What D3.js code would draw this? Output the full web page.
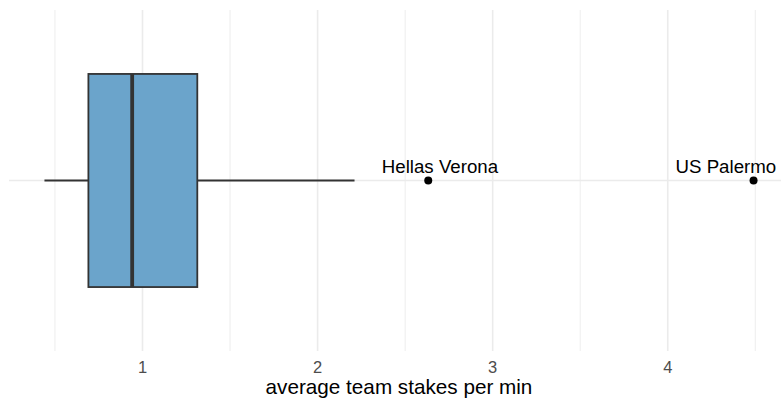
<!DOCTYPE html>
<html>
<head>
<meta charset="utf-8">
<script src="https://cdn.jsdelivr.net/npm/d3@7"></script>
<style>
  body { margin: 0; background: #fff; }
  text { font-family: "Liberation Sans", Arial, sans-serif; }
</style>
</head>
<body>
<div class="chart"></div>
<script>
// boxplot summary
var category = ["teams"];
var boxStats = [{lower: 0.44, q1: 0.691, median: 0.941, q3: 1.313, upper: 2.211}];
var outlierTeams  = ["Hellas Verona", "US Palermo"];
var outlierValues = [2.632, 4.49];
var labelCenters  = [2.699, 4.332];   // where the (repelled) labels sit
var xTicks = [1, 2, 3, 4];
var xMinorTicks = [0.5, 1.5, 2.5, 3.5, 4.5];

var svg = d3.select(".chart").append("svg").attr("width", 781).attr("height", 400),
    panel = {left: 9, right: 789, top: 10, bottom: 351};

// data range + 5% each side, like ggplot does
var lo = d3.min(boxStats, d => d.lower),
    hi = d3.max(outlierValues),
    pad = (hi - lo) * 0.05;

var x = d3.scaleLinear().domain([lo - pad, hi + pad]).range([panel.left, panel.right]);
var y = d3.scaleBand().domain(category).range([panel.top, panel.bottom])
          .paddingInner(0.25).paddingOuter(0.225);

var g = svg.append("g");

// grid
g.selectAll(".minor").data(xMinorTicks).enter().append("line")
    .attr("x1", d => x(d)).attr("x2", d => x(d))
    .attr("y1", panel.top).attr("y2", panel.bottom)
    .attr("stroke", "#ebebeb").attr("stroke-width", 0.9);

g.selectAll(".major").data(xTicks).enter().append("line")
    .attr("x1", d => x(d)).attr("x2", d => x(d))
    .attr("y1", panel.top).attr("y2", panel.bottom)
    .attr("stroke", "#ebebeb").attr("stroke-width", 1.6);

g.selectAll(".hmajor").data(category).enter().append("line")
    .attr("x1", panel.left).attr("x2", panel.right)
    .attr("y1", d => y(d) + y.bandwidth() / 2).attr("y2", d => y(d) + y.bandwidth() / 2)
    .attr("stroke", "#ebebeb").attr("stroke-width", 1.6);

// boxplot
var mid = y(category[0]) + y.bandwidth() / 2;
boxStats.forEach(function(b) {
  g.append("line")
      .attr("x1", x(b.lower)).attr("x2", x(b.q1))
      .attr("y1", mid).attr("y2", mid)
      .attr("stroke", "#333333").attr("stroke-width", 1.8);
  g.append("line")
      .attr("x1", x(b.q3)).attr("x2", x(b.upper))
      .attr("y1", mid).attr("y2", mid)
      .attr("stroke", "#333333").attr("stroke-width", 1.8);
  g.append("rect")
      .attr("x", x(b.q1)).attr("y", y(category[0]))
      .attr("width", x(b.q3) - x(b.q1)).attr("height", y.bandwidth())
      .attr("fill", "#6ba4cb").attr("stroke", "#333333").attr("stroke-width", 1.8);
  g.append("line")
      .attr("x1", x(b.median)).attr("x2", x(b.median))
      .attr("y1", y(category[0])).attr("y2", y(category[0]) + y.bandwidth())
      .attr("stroke", "#333333").attr("stroke-width", 3.8);
});

// outliers
g.selectAll(".out").data(outlierValues).enter().append("circle")
    .attr("cx", d => x(d)).attr("cy", mid).attr("r", 4)
    .attr("fill", "#000");

g.selectAll(".lab").data(outlierTeams).enter().append("text")
    .attr("x", (d, i) => x(labelCenters[i]))
    .attr("y", mid - 8)
    .attr("text-anchor", "middle")
    .style("font-size", "18.7px")
    .attr("fill", "#000")
    .text(d => d);

// x axis labels
g.selectAll(".tick").data(xTicks).enter().append("text")
    .attr("x", d => x(d)).attr("y", 373)
    .attr("text-anchor", "middle")
    .style("font-size", "16.5px")
    .attr("fill", "#4d4d4d")
    .text(d => d);

svg.append("text")
    .attr("x", (panel.left + panel.right) / 2).attr("y", 394)
    .attr("text-anchor", "middle")
    .style("font-size", "20.7px")
    .attr("fill", "#000")
    .text("average team stakes per min");
</script>
</body>
</html>
